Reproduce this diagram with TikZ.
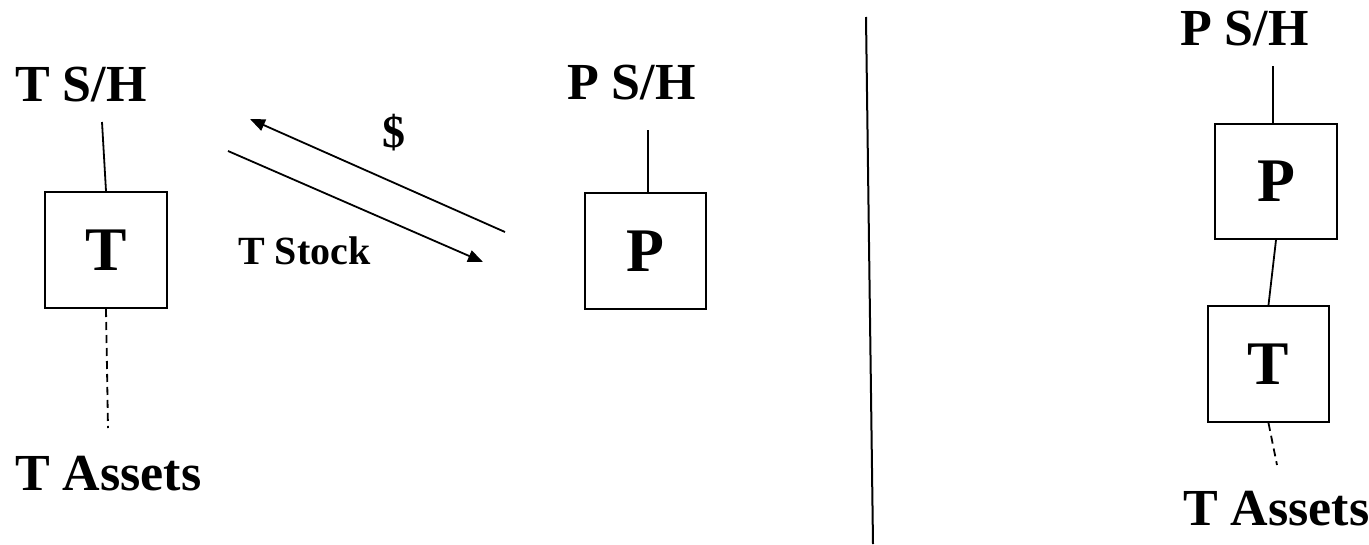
\documentclass[tikz,border=0pt]{standalone}
\usepackage{fontspec}
\setmainfont{Liberation Serif}
\usetikzlibrary{arrows.meta}
\begin{document}
\begin{tikzpicture}[x=1pt,y=-1pt,
  lbl/.style={inner sep=0pt,anchor=base west,font=\fontsize{52}{60}\selectfont\bfseries},
  smalllbl/.style={inner sep=0pt,font=\fontsize{40}{48}\selectfont\bfseries},
  entbox/.style={draw,line width=2pt,inner sep=0pt,font=\fontsize{62}{70}\selectfont\bfseries},
  conn/.style={line width=1.8pt},
  dashconn/.style={line width=1.8pt,dash pattern=on 8pt off 5pt},
  arr/.style={line width=1.8pt,-{Triangle[length=15pt,width=12pt]}}
]
\useasboundingbox (0,0) rectangle (1369,544);
% left scene
\node[lbl] (tsh) at (15,101) {T S/H};
\node[entbox,minimum width=122pt,minimum height=116pt] (tbox) at (106,250) {T};
\node[lbl] (tassets) at (15,490) {T Assets};
\coordinate (tshEnd) at (102,122);
\coordinate (tassEnd) at (108,428);
\draw[conn] (tshEnd) -- (tbox.north);
\draw[dashconn] (tbox.south) -- (tassEnd);

\node[lbl] (psh) at (567,99) {P S/H};
\node[entbox,minimum width=121pt,minimum height=116pt] (pbox) at (645.5,251) {P};
\coordinate (pshEnd) at (648,130);
\draw[conn] (pshEnd) -- (pshEnd |- pbox.north);

\coordinate (dollarStart) at (505,232);
\coordinate (dollarEnd) at (250,119);
\coordinate (stockStart) at (228,151);
\coordinate (stockEnd) at (483,262);
\draw[arr] (dollarStart) -- (dollarEnd);
\draw[arr] (stockStart) -- (stockEnd);
\node[inner sep=0pt,anchor=base,font=\fontsize{46}{54}\selectfont\bfseries] (dollar) at (394,147) {\$};
\node[smalllbl,anchor=base west] (tstock) at (238,264) {T Stock};

% divider
\coordinate (divTop) at (866,17);
\coordinate (divBot) at (873,544);
\draw[line width=2pt] (divTop) -- (divBot);

% right scene
\node[lbl] (psh2) at (1180,45) {P S/H};
\node[entbox,minimum width=122pt,minimum height=115pt] (pbox2) at (1276,181.5) {P};
\node[entbox,minimum width=121pt,minimum height=116pt] (tbox2) at (1268.5,364) {T};
\node[lbl] (tassets2) at (1183,525) {T Assets};
\coordinate (psh2End) at (1273,66);
\coordinate (tass2End) at (1277,465);
\draw[conn] (psh2End) -- (psh2End |- pbox2.north);
\draw[conn] (pbox2.south) -- (tbox2.north);
\draw[dashconn] (tbox2.south) -- (tass2End);
\end{tikzpicture}
\end{document}
